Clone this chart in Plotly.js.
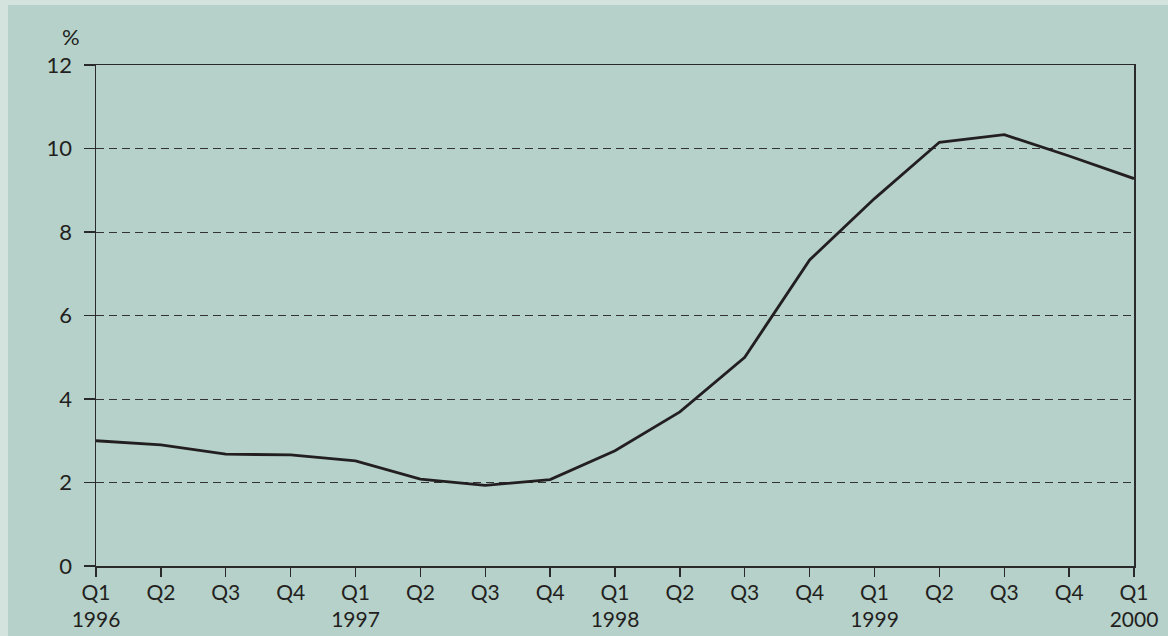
<!DOCTYPE html>
<html><head><meta charset="utf-8">
<script src="https://cdn.plot.ly/plotly-3.0.1.min.js"></script>
<style>
html,body{margin:0;padding:0;background:#d5e3df;width:1168px;height:636px;overflow:hidden}
#chart{position:absolute;left:8px;top:5px;width:1160px;height:631px}
</style></head>
<body><div id="chart"></div>
<script>
const quarters = ["Q1","Q2","Q3","Q4","Q1","Q2","Q3","Q4","Q1","Q2","Q3","Q4","Q1","Q2","Q3","Q4","Q1"];
const years    = ["1996","","","","1997","","","","1998","","","","1999","","","","2000"];
const values   = [3.0,2.9,2.68,2.66,2.52,2.08,1.93,2.07,2.76,3.69,5.0,7.33,8.8,10.15,10.33,9.82,9.28];
const yTicks   = [0,2,4,6,8,10,12];

const idx = quarters.map((_, i) => i);
const tickText = quarters.map((q, i) => years[i] ? q + "<br>" + years[i] : q);
const font = {family: "Lato, 'Open Sans', sans-serif", size: 22, color: "#231f20"};
const xfont = {family: "Lato, 'Open Sans', sans-serif", size: 21, color: "#231f20"};

Plotly.newPlot("chart", [{
  x: idx, y: values, type: "scatter", mode: "lines",
  line: {color: "#231f20", width: 2.8}, hoverinfo: "skip"
}], {
  width: 1160, height: 631,
  paper_bgcolor: "#b5d1c9", plot_bgcolor: "#b5d1c9",
  margin: {l: 88, r: 34, t: 60, b: 70},
  showlegend: false,
  font: font,
  xaxis: {
    range: [0, 16], tickvals: idx, ticktext: tickText,
    showgrid: false, zeroline: false,
    showline: true, linecolor: "#2a2a2a", linewidth: 1.5, mirror: true,
    ticks: "outside", ticklen: 9, tickcolor: "#2a2a2a", tickwidth: 1.3,
    ticklabelstandoff: -2,
    tickfont: xfont, fixedrange: true
  },
  yaxis: {
    range: [0, 12], tickvals: yTicks, ticktext: yTicks.map(String),
    showgrid: true, gridcolor: "#333333", gridwidth: 1, griddash: "8px,5px",
    zeroline: false,
    showline: true, linecolor: "#2a2a2a", linewidth: 1.5, mirror: true,
    ticks: "outside", ticklen: 11, tickcolor: "#2a2a2a", tickwidth: 1.3,
    ticklabelstandoff: 7,
    tickfont: font, fixedrange: true
  },
  annotations: [{
    text: "%", xref: "paper", yref: "paper",
    x: -0.0135, y: 1.056, xanchor: "right", yanchor: "middle",
    showarrow: false, font: font
  }]
}, {displayModeBar: false, staticPlot: true});
</script></body></html>
